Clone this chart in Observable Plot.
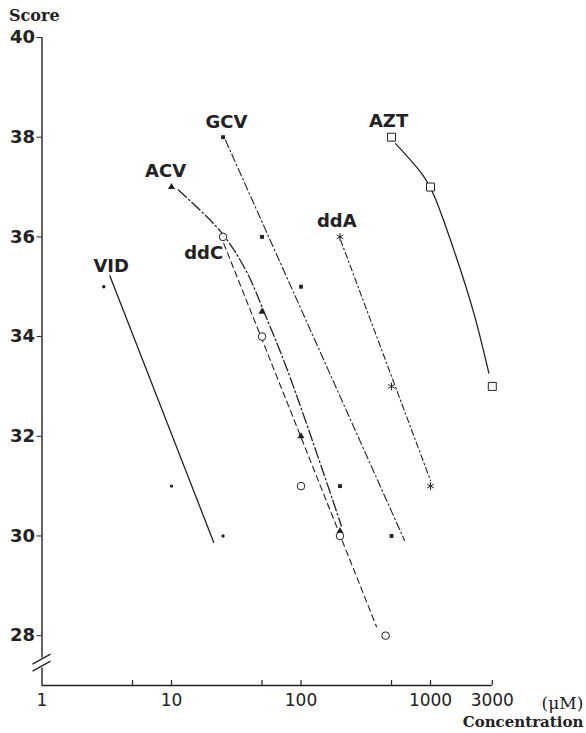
<!DOCTYPE html>
<html><head><meta charset="utf-8">
<script src="https://cdn.jsdelivr.net/npm/d3@7"></script>
<script src="https://cdn.jsdelivr.net/npm/@observablehq/plot@0.6"></script>
<style>body{margin:0;background:#fff}</style>
</head><body><div id="chart"></div>
<script>
// ---- tick labels ----
const xTicksMajor = [1, 10, 100, 1000, 3000];
const xTicksMinor = [5, 50, 500];
const yTicks = [28, 30, 32, 34, 36, 38, 40];

// ---- observed points (concentration µM, score) ----
const vidX = [3, 10, 25];            const vidY = [35, 31, 30];
const acvX = [10, 25, 50, 100, 200]; const acvY = [37, 36, 34.5, 32, 30.1];
const gcvX = [25, 50, 100, 200, 500]; const gcvY = [38, 36, 35, 31, 30];
const ddcX = [25, 50, 100, 200, 450]; const ddcY = [36, 34, 31, 30, 28];
const ddaX = [200, 500, 1000];       const ddaY = [36, 33, 31];
const aztX = [500, 1000, 3000];      const aztY = [38, 37, 33];

// ---- fitted lines / curves ----
const vidFitX = [3.34, 21.2];  const vidFitY = [35.22, 29.87];
const acvFitX = [11.3, 23.9, 37.3, 54.8, 78.2, 145.8, 205];
const acvFitY = [36.94, 36.11, 35.34, 34.34, 33.34, 31.34, 30.2];
const gcvFitX = [26.1, 630];   const gcvFitY = [37.94, 29.91];
const ddcFitX = [25.3, 383];   const ddcFitY = [35.87, 28.18];
const ddaFitX = [202, 1000];   const ddaFitY = [35.94, 31.11];
const aztFitX = [537, 888, 1060, 1514, 2160, 2820];
const aztFitY = [37.87, 37.21, 36.84, 35.74, 34.47, 33.27];

// ---- series labels ----
const labelNames = ["VID", "ACV", "GCV", "ddC", "ddA", "AZT"];
const labelX = [3.42, 9.0, 26.6, 17.7, 189, 474];
const labelY = [35.41, 37.31, 38.31, 35.67, 36.31, 38.33];

const yMin = 27, yMax = 40, breakAt = 27.45;
const ink = "#222";

const pts = (xs, ys) => xs.map((x, i) => ({x, y: ys[i]}));
const labels = labelNames.map((name, i) => ({name, x: labelX[i], y: labelY[i]}));

function axisBreak(index, scales) {
  const x0 = scales.x(1), y0 = scales.y(breakAt);
  const g = d3.create("svg:g").attr("stroke", ink).attr("stroke-width", 1.3).attr("fill", "none");
  for (const off of [-3.5, 3.5]) {
    g.append("line").attr("x1", x0 - 9).attr("y1", y0 + off + 5).attr("x2", x0 + 9).attr("y2", y0 + off - 5);
  }
  return g.node();
}

const lineStyle = {x: "x", y: "y", stroke: ink, strokeWidth: 1.3};

const chart = Plot.plot({
  width: 586,
  height: 733,
  marginLeft: 41.5,
  marginRight: 94.2,
  marginTop: 37,
  marginBottom: 48,
  style: {background: "#fff", color: ink, fontFamily: "DejaVu Sans", overflow: "visible"},
  x: {type: "log", domain: [1, 3000], label: null, axis: null},
  y: {domain: [yMin, yMax], label: null},
  marks: [
    // axis lines
    Plot.ruleX([1], {y1: yMax, y2: breakAt + 0.1, stroke: ink, strokeWidth: 1.4}),
    Plot.ruleX([1], {y1: breakAt - 0.1, y2: yMin, stroke: ink, strokeWidth: 1.4}),
    axisBreak,
    Plot.ruleY([yMin], {x1: 1, x2: 3000, stroke: ink, strokeWidth: 1.4}),
    Plot.ruleX([...xTicksMajor.slice(1), ...xTicksMinor], {x: d => d, y1: yMin, y2: yMin + 0.1, stroke: ink, strokeWidth: 1.2}),
    Plot.text(xTicksMajor, {x: d => d, y: yMin, dy: 8, lineAnchor: "top", text: d => String(d), fontSize: 17, fill: ink}),
    Plot.axisY(yTicks, {tickSize: 5, tickPadding: 2, tickFormat: d => String(d), fontSize: 18, fontWeight: "bold", fill: ink, stroke: ink, label: null}),

    // fitted lines
    Plot.line(pts(vidFitX, vidFitY), {...lineStyle}),
    Plot.line(pts(acvFitX, acvFitY), {...lineStyle, curve: "catmull-rom", strokeDasharray: "11,3,1.5,3"}),
    Plot.line(pts(gcvFitX, gcvFitY), {...lineStyle, strokeWidth: 1.1, strokeDasharray: "8,3,1.5,3"}),
    Plot.line(pts(ddcFitX, ddcFitY), {...lineStyle, strokeWidth: 1.1, strokeDasharray: "6,4"}),
    Plot.line(pts(ddaFitX, ddaFitY), {...lineStyle, strokeWidth: 1.1, strokeDasharray: "6,3,1.5,3"}),
    Plot.line(pts(aztFitX, aztFitY), {...lineStyle, curve: "catmull-rom"}),

    // points
    Plot.dot(pts(vidX, vidY), {x: "x", y: "y", r: 1.7, fill: ink, stroke: "none"}),
    Plot.dot(pts(acvX, acvY), {x: "x", y: "y", r: 2.6, symbol: "triangle", fill: ink, stroke: "none"}),
    Plot.dot(pts(gcvX, gcvY), {x: "x", y: "y", r: 2.2, symbol: "square", fill: ink, stroke: "none"}),
    Plot.dot(pts(ddcX, ddcY), {x: "x", y: "y", r: 3.8, fill: "#fff", stroke: ink, strokeWidth: 1}),
    Plot.dot(pts(ddaX, ddaY), {x: "x", y: "y", r: 3.6, symbol: "asterisk", stroke: ink, strokeWidth: 1}),
    Plot.dot(pts(aztX, aztY), {x: "x", y: "y", r: 4.5, symbol: "square", fill: "#fff", stroke: ink, strokeWidth: 1}),

    // series labels
    Plot.text(labels, {x: "x", y: "y", text: "name", fontSize: 18, fontWeight: "bold", fill: ink}),

    // axis titles
    Plot.text(["Score"], {x: [1], y: [yMax], text: d => d, dx: -33, dy: -22, textAnchor: "start",
      fontFamily: "DejaVu Serif", fontWeight: "bold", fontSize: 16, fill: ink}),
    Plot.text(["(μM)"], {x: [3000], y: [yMin], text: d => d, dx: 91, dy: 18, textAnchor: "end",
      fontFamily: "DejaVu Serif", fontSize: 17, fill: ink}),
    Plot.text(["Concentration"], {x: [3000], y: [yMin], text: d => d, dx: 91, dy: 37, textAnchor: "end",
      fontFamily: "DejaVu Serif", fontWeight: "bold", fontSize: 15, fill: ink})
  ]
});
document.getElementById("chart").appendChild(chart);
</script>
</body></html>
